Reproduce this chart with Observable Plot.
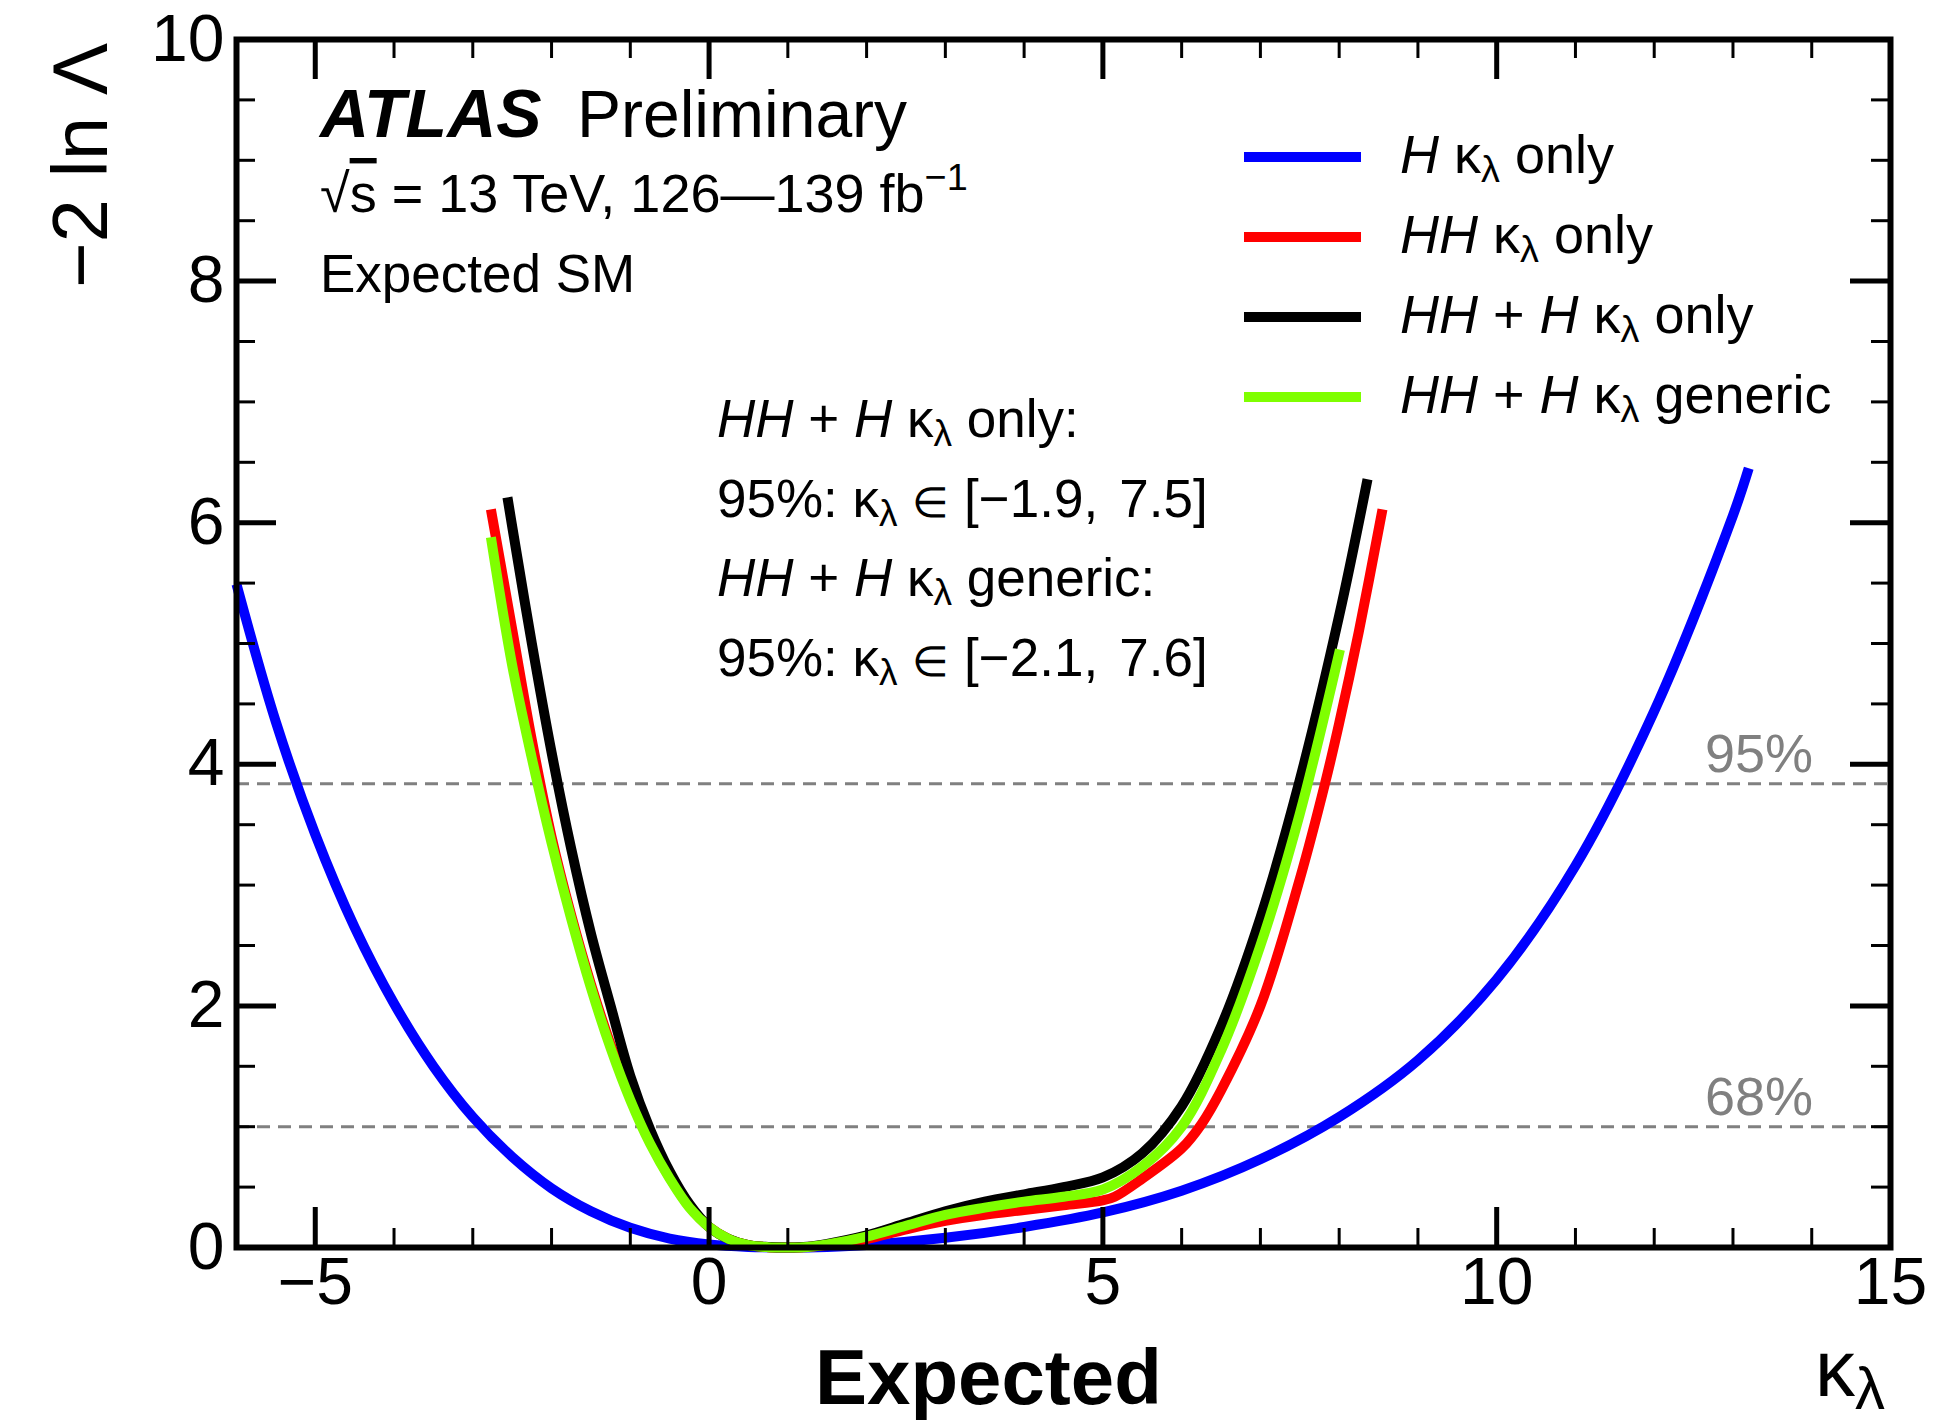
<!DOCTYPE html>
<html><head><meta charset="utf-8">
<script src="https://cdn.jsdelivr.net/npm/d3@7"></script>
<script src="https://cdn.jsdelivr.net/npm/@observablehq/plot@0.6"></script>
<style>
html,body{margin:0;padding:0;background:#fff;}
#chart svg{display:block;}
</style></head><body><div id="chart"></div>
<script>
// ---------------- data ----------------
// H kappa_lambda only (blue)
const klH  = [-6, -5.5, -5, -4.5, -4, -3.5, -3, -2.5, -2, -1.5, -1, -0.5, 0, 0.5, 1, 1.5, 2, 3, 4, 5, 6, 7, 8, 9, 10, 11, 12, 13, 13.2];
const nllH = [5.49, 4.35, 3.42, 2.65, 2.02, 1.5, 1.08, 0.75, 0.49, 0.3, 0.163, 0.074, 0.026, 0.005, 0, 0.005, 0.02, 0.08, 0.17, 0.29, 0.47, 0.73, 1.08, 1.55, 2.22, 3.16, 4.44, 6.06, 6.45];
// HH kappa_lambda only (red)
const klHH  = [-2.77, -2.5, -2.25, -2, -1.75, -1.5, -1.25, -1, -0.75, -0.5, -0.25, 0, 0.25, 0.5, 0.75, 1, 1.25, 1.5, 2, 2.5, 3, 3.5, 4, 4.5, 5, 5.15, 5.5, 6, 6.25, 6.5, 7, 7.5, 7.82, 8, 8.25, 8.55];
const nllHH = [6.11, 5.12, 4.2, 3.4, 2.75, 2.18, 1.68, 1.25, 0.88, 0.58, 0.34, 0.17, 0.07, 0.02, 0.003, 0, 0.005, 0.02, 0.07, 0.15, 0.22, 0.27, 0.31, 0.35, 0.39, 0.42, 0.57, 0.82, 1.02, 1.3, 2.0, 3.05, 3.84, 4.34, 5.1, 6.11];
// HH + H kappa_lambda only (black)
const klComb  = [-2.56, -2.5, -2.25, -2, -1.75, -1.5, -1.25, -1, -0.75, -0.5, -0.25, 0, 0.25, 0.5, 0.75, 1, 1.25, 1.5, 2, 2.5, 3, 3.5, 4, 4.5, 5, 5.5, 6, 6.5, 7, 7.5, 8, 8.36];
const nllComb = [6.21, 5.97, 5.0, 4.1, 3.3, 2.6, 2.0, 1.42, 0.98, 0.63, 0.36, 0.17, 0.07, 0.02, 0.004, 0, 0.006, 0.03, 0.1, 0.2, 0.3, 0.38, 0.44, 0.5, 0.58, 0.78, 1.17, 1.83, 2.73, 3.87, 5.23, 6.36];
// HH + H kappa_lambda generic (green)
const klGen  = [-2.77, -2.5, -2.25, -2, -1.75, -1.5, -1.25, -1, -0.75, -0.5, -0.25, 0, 0.25, 0.5, 0.75, 1, 1.25, 1.5, 2, 2.5, 3, 3.5, 4, 4.5, 5, 5.5, 6, 6.5, 7, 7.5, 8.01];
const nllGen = [5.88, 4.82, 4.05, 3.35, 2.72, 2.15, 1.65, 1.22, 0.86, 0.57, 0.33, 0.17, 0.07, 0.02, 0.003, 0, 0.005, 0.025, 0.09, 0.18, 0.27, 0.33, 0.38, 0.42, 0.48, 0.67, 1.0, 1.63, 2.5, 3.59, 4.95];

const seriesNames  = ["H only", "HH only", "HH+H only", "HH+H generic"];
const seriesColors = ["#0000ff", "#ff0000", "#000000", "#7fff00"];
const seriesLabels = [
  "<i>H</i> κ<sub>λ</sub> only",
  "<i>HH</i> κ<sub>λ</sub> only",
  "<i>HH</i> + <i>H</i> κ<sub>λ</sub> only",
  "<i>HH</i> + <i>H</i> κ<sub>λ</sub> generic"
];

const clLevels = [3.84, 1.0];
const clLabels = ["95%", "68%"];

const xMajorTicks = [-5, 0, 5, 10, 15];
const xMinorTicks = [-4, -3, -2, -1, 1, 2, 3, 4, 6, 7, 8, 9, 11, 12, 13, 14];
const yMajorTicks = [0, 2, 4, 6, 8, 10];
const yMinorTicks = [0.5, 1, 1.5, 2.5, 3, 3.5, 4.5, 5, 5.5, 6.5, 7, 7.5, 8.5, 9, 9.5];

const xTitleMain = "Expected";
const xTitleVar = "κ<sub>λ</sub>";
const yTitle = "−2 ln Λ";
const atlasLabel = "ATLAS";
const statusLabel = "Preliminary";
const energyLabel = "√<o>s</o> = 13 TeV, 126—139 fb<sup>−1</sup>";
const conditionLabel = "Expected SM";
const resultLines = [
  "<i>HH</i> + <i>H</i> κ<sub>λ</sub> only:",
  "95%: κ<sub>λ</sub> <m>∈</m> [−1.9,\u2009\u20097.5]",
  "<i>HH</i> + <i>H</i> κ<sub>λ</sub> generic:",
  "95%: κ<sub>λ</sub> <m>∈</m> [−2.1,\u2009\u20097.6]"
];

// ---------------- layout ----------------
const W = 1947, H = 1426;
const mL = 236, mR = 57, mT = 39, mB = 179;
const innerW = W - mL - mR, innerH = H - mT - mB;
const FONT = "'Liberation Sans', Arial, Helvetica, sans-serif";
const fmt = d => d < 0 ? "\u2212" + Math.abs(d) : String(d);

const curves = [[klH, nllH], [klHH, nllHH], [klComb, nllComb], [klGen, nllGen]];
const lineMarks = curves.map(([xs, ys], i) =>
  Plot.line(xs.map((k, j) => ({k, v: ys[j]})), {
    x: "k", y: "v", stroke: seriesColors[i], strokeWidth: 10,
    curve: "catmull-rom", strokeLinecap: "butt", strokeLinejoin: "round"
  })
);

const chart = Plot.plot({
  width: W, height: H,
  marginLeft: mL, marginRight: mR, marginTop: mT, marginBottom: mB,
  x: {domain: [-6, 15]},
  y: {domain: [0, 10]},
  style: {fontFamily: FONT, fontSize: "66px", background: "#fff", color: "#000", overflow: "visible"},
  marks: [
    Plot.ruleY(clLevels, {y: d => d, stroke: "#808080", strokeWidth: 3, strokeDasharray: "13,8"}),
    ...lineMarks,
    Plot.tickX(xMajorTicks, {x: d => d, insetTop: innerH - 40, strokeWidth: 5, stroke: "#000"}),
    Plot.tickX(xMajorTicks, {x: d => d, insetBottom: innerH - 40, strokeWidth: 5, stroke: "#000"}),
    Plot.tickX(xMinorTicks, {x: d => d, insetTop: innerH - 19, strokeWidth: 3, stroke: "#000"}),
    Plot.tickX(xMinorTicks, {x: d => d, insetBottom: innerH - 19, strokeWidth: 3, stroke: "#000"}),
    Plot.tickY(yMajorTicks, {y: d => d, insetRight: innerW - 40, strokeWidth: 5, stroke: "#000"}),
    Plot.tickY(yMajorTicks, {y: d => d, insetLeft: innerW - 40, strokeWidth: 5, stroke: "#000"}),
    Plot.tickY(yMinorTicks, {y: d => d, insetRight: innerW - 19, strokeWidth: 3, stroke: "#000"}),
    Plot.tickY(yMinorTicks, {y: d => d, insetLeft: innerW - 19, strokeWidth: 3, stroke: "#000"}),
    Plot.axisX({ticks: xMajorTicks, tickSize: 0, tickPadding: 10, tickFormat: fmt, fontSize: 66, label: null}),
    Plot.axisY({ticks: yMajorTicks, tickSize: 0, tickPadding: 12, tickFormat: fmt, fontSize: 66, label: null}),
    Plot.frame({stroke: "#000", strokeWidth: 6})
  ]
});
document.getElementById("chart").appendChild(chart);

// ---------------- rich text helper ----------------
function rich(parent, str, o) {
  const size = o.size, subScale = o.subScale ?? 0.7, subShift = o.subShift ?? 0.2;
  const t = parent.append("text")
    .attr("x", o.x).attr("y", o.y)
    .attr("font-size", size)
    .attr("fill", o.fill || "#000")
    .attr("text-anchor", o.anchor || "start")
    .attr("font-weight", o.weight || "normal")
    .attr("font-style", o.style || "normal");
  if (o.rotate) t.attr("transform", `rotate(${o.rotate},${o.x},${o.y})`);
  const tokens = str.split(/(<\/?(?:i|b|sub|sup|o|m)>)/).filter(s => s !== "");
  const st = {i: false, b: false, sub: false, sup: false, o: false, m: false};
  let shift = 0;
  for (const tok of tokens) {
    const m = tok.match(/^<(\/?)(i|b|sub|sup|o|m)>$/);
    if (m) { st[m[2]] = !m[1]; continue; }
    const target = st.sub ? size * subShift : st.sup ? -size * 0.4 : 0;
    const ts = t.append("tspan").text(tok);
    if (target !== shift) { ts.attr("dy", target - shift); shift = target; }
    if (st.sub) ts.attr("font-size", size * subScale);
    if (st.sup) ts.attr("font-size", size * 0.7);
    if (st.m) ts.attr("font-size", size * 0.8);
    if (st.i) ts.attr("font-style", "italic");
    if (st.b) ts.attr("font-weight", "bold");
    if (st.o) ts.style("text-decoration", "overline");
  }
  return t;
}

const svg = d3.select(chart);
const sy = chart.scale("y");
const g = svg.append("g").attr("font-family", FONT).style("white-space", "pre");

// ATLAS label block
rich(g, atlasLabel, {x: 320, y: 137, size: 68, weight: "bold", style: "italic"});
rich(g, statusLabel, {x: 577, y: 137, size: 66});
rich(g, energyLabel, {x: 320, y: 212, size: 54});
rich(g, conditionLabel, {x: 320, y: 292, size: 53});

// result text block
resultLines.forEach((s, i) => rich(g, s, {x: 717, y: 437 + 79.5 * i, size: 53, subShift: 0.17}));

// legend
seriesLabels.forEach((s, i) => {
  const cy = 157 + 80 * i;
  g.append("line").attr("x1", 1244).attr("x2", 1361).attr("y1", cy).attr("y2", cy)
    .attr("stroke", seriesColors[i]).attr("stroke-width", 10);
  rich(g, s, {x: 1400, y: cy + 16, size: 54, subShift: 0.17});
});

// CL labels
clLevels.forEach((v, i) => rich(g, clLabels[i], {x: 1813, y: sy.apply(v) - 11, size: 54, anchor: "end", fill: "#808080"}));

// axis titles
rich(g, yTitle, {x: 107, y: 43, size: 78, anchor: "end", rotate: -90});
rich(g, xTitleMain, {x: 815, y: 1404, size: 78, weight: "bold"});
rich(g, xTitleVar, {x: 1885, y: 1396, size: 80, anchor: "end", subScale: 0.75, subShift: 0.16});
</script></body></html>
